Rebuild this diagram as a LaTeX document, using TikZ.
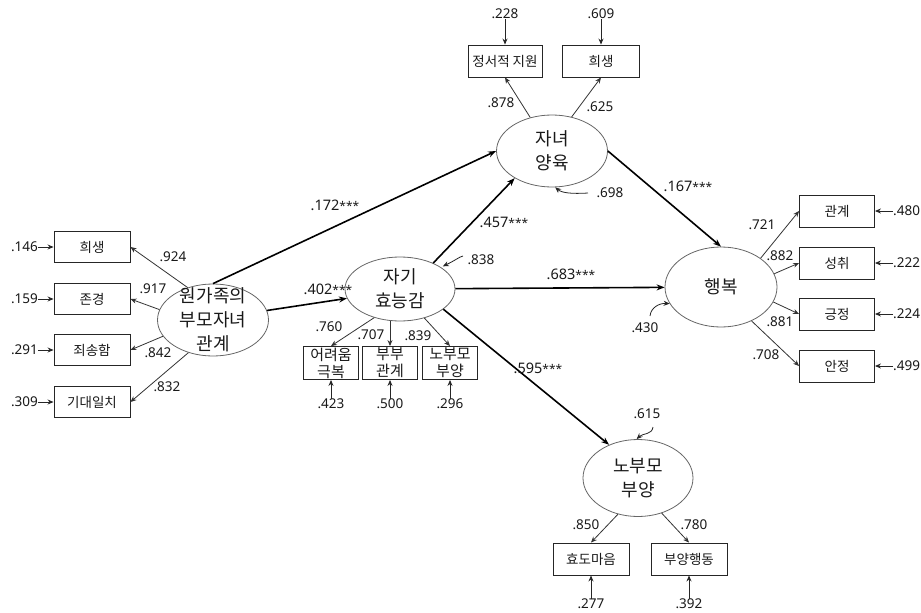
\documentclass[tikz,border=0pt]{standalone}
\usepackage{fontspec}
\setmainfont{Noto Sans CJK KR}
\newfontfamily\numfont{Noto Sans}
\usetikzlibrary{shapes.geometric,arrows.meta}
\newcommand{\sig}{{\fontsize{12}{12}\selectfont***}}
\begin{document}
\begin{tikzpicture}[x=1pt,y=-1pt,
 lat/.style={ellipse,draw=black!60,line width=0.8pt,inner sep=0},
 lattxt/.style={align=center,font=\fontsize{18}{24}\selectfont,inner sep=0,text=black!90},
 obs/.style={rectangle,draw=black!85,line width=0.9pt,minimum width=76pt,minimum height=32pt,inner sep=0,font=\fontsize{13.5}{16}\selectfont,text=black!90},
 sobs/.style={obs,minimum width=55pt,minimum height=33pt,align=center,font=\fontsize{15}{17}\selectfont},
 num/.style={inner sep=0,font=\numfont\fontsize{13.5}{15}\selectfont,text=black!90},
 pnum/.style={inner sep=0,font=\numfont\fontsize{14.5}{16}\selectfont,text=black!90},
 strong/.style={-{Stealth[length=8pt,width=6pt]},line width=1.6pt},
 load/.style={-{Stealth[length=6pt,width=5pt]},line width=0.8pt,draw=black!80},
 err/.style={-{Stealth[length=6pt,width=5pt]},line width=0.8pt,draw=black!85},
]
\useasboundingbox (0,0) rectangle (921,613);

% latent variables
\node[lat,minimum width=111pt,minimum height=72pt] (fam) at (213,320) {};
\node[lattxt] at (fam) {원가족의\\부모자녀\\관계};
\node[lat,minimum width=110pt,minimum height=64pt] (hyo) at (400,289) {};
\node[lattxt] at (hyo) {자기\\효능감};
\node[lat,minimum width=111pt,minimum height=72pt] (yuk) at (552,151) {};
\node[lattxt] at (yuk) {자녀\\양육};
\node[lat,minimum width=112pt,minimum height=80pt] (hap) at (721,287) {};
\node[lattxt] at (hap) {행복};
\node[lat,minimum width=110pt,minimum height=77pt] (nob) at (638,478) {};
\node[lattxt] at (nob) {노부모\\부양};

% observed: left
\node[obs,minimum height=31pt] (a1) at (92,247) {희생};
\node[obs,minimum height=31pt] (a2) at (92,299) {존경};
\node[obs,minimum height=31pt] (a3) at (92,350) {죄송함};
\node[obs,minimum height=31pt] (a4) at (92,402) {기대일치};
% observed: self-efficacy
\node[sobs] (b1) at (331,363) {어려움\\극복};
\node[sobs] (b2) at (390,363) {부부\\관계};
\node[sobs] (b3) at (450,363) {노부모\\부양};
% observed: top
\node[obs,minimum width=74pt] (c1) at (505,61) {정서적 지원};
\node[obs,minimum width=77pt] (c2) at (601,61) {희생};
% observed: right
\node[obs,minimum width=75pt] (d1) at (837,211) {관계};
\node[obs,minimum width=75pt] (d2) at (837,263) {성취};
\node[obs,minimum width=75pt] (d3) at (837,314) {긍정};
\node[obs,minimum width=75pt] (d4) at (837,366) {안정};
% observed: bottom
\node[obs] (f1) at (591,559) {효도마음};
\node[obs] (f2) at (689,559) {부양행동};

% error terms of observed variables
\node[num,anchor=east] (ea1) at (38,247) {.146};
\node[num,anchor=east] (ea2) at (38,299) {.159};
\node[num,anchor=east] (ea3) at (38,350) {.291};
\node[num,anchor=east] (ea4) at (38,402) {.309};
\foreach \i in {1,2,3,4} \draw[err] (ea\i) -- (a\i);
\node[num] (eb1) at (331,404) {.423};
\node[num] (eb2) at (390,404) {.500};
\node[num] (eb3) at (450,404) {.296};
\foreach \i in {1,2,3} \draw[err] (eb\i) -- (b\i);
\node[num] (ec1) at (505,14) {.228};
\node[num] (ec2) at (601,14) {.609};
\foreach \i in {1,2} \draw[err] (ec\i) -- (c\i);
\node[num,anchor=west] (ed1) at (893,211) {.480};
\node[num,anchor=west] (ed2) at (893,263) {.222};
\node[num,anchor=west] (ed3) at (893,314) {.224};
\node[num,anchor=west] (ed4) at (893,366) {.499};
\foreach \i in {1,2,3,4} \draw[err] (ed\i) -- (d\i);
\node[num] (ef1) at (591,604) {.277};
\node[num] (ef2) at (689,604) {.392};
\foreach \i in {1,2} \draw[err] (ef\i) -- (f\i);

% loadings
\draw[load] (fam.128) -- (a1.east);
\draw[load] (fam.169) -- (a2.east);
\draw[load] (fam.198) -- (a3.east);
\draw[load] (fam.233) -- (a4.east);
\node[num] at (173,257) {.924};
\node[num] at (153,289) {.917};
\node[num] at (158,353) {.842};
\node[num] at (167,387) {.832};

\draw[load] (hyo.228) -- (b1.north);
\draw[load] (b2.north |- hyo.south) -- (b2.north);
\draw[load] (hyo.-50) -- (b3.north);
\node[num] at (329,327) {.760};
\node[num] at (371,335) {.707};
\node[num] at (418,336) {.839};

\draw[load] (yuk.123) -- (c1.south);
\draw[load] (yuk.60) -- (c2.south);
\node[num] at (501,103) {.878};
\node[num] at (600,107) {.625};

\draw[load] (hap.36) -- (d1.west);
\draw[load] (hap.14) -- (d2.west);
\draw[load] (hap.-16) -- (d3.west);
\draw[load] (hap.-48) -- (d4.west);
\node[num] at (762,225) {.721};
\node[num] at (780,256) {.882};
\node[num] at (780,322) {.881};
\node[num] at (766,355) {.708};

\draw[load] (nob.241) -- (f1.north);
\draw[load] (nob.-56) -- (f2.north);
\node[num] at (586,525) {.850};
\node[num] at (694,525) {.780};

% structural paths
\draw[strong] (fam.north) -- (yuk.west);
\draw[strong] (fam.10) -- (hyo.190);
\draw[strong] (hyo.38) -- (yuk.216);
\draw[strong] (hyo) -- (hap);
\draw[strong] (hyo.-25) -- (nob.131);
\draw[strong] (yuk.east) -- (hap.north);
\node[pnum] at (335,205) {.172\sig};
\node[pnum] at (328,289) {.402\sig};
\node[pnum] at (504,222) {.457\sig};
\node[pnum] at (571,274) {.683\sig};
\node[pnum] at (538,368) {.595\sig};
\node[pnum] at (688,186) {.167\sig};

% residuals of latent variables
\node[num] at (610,193) {.698};
\coordinate (rys) at (588,193);
\draw[err] (rys) .. controls (572,194) and (562,193) .. (yuk.-85);
\node[num] at (481,260) {.838};
\coordinate (rhs) at (463,256);
\draw[err,shorten >=2pt] (rhs) .. controls (459,257) and (456,260) .. (hyo.28);
\node[num] at (645,328) {.430};
\coordinate (rps) at (650,316);
\draw[err] (rps) .. controls (651,307) and (660,303) .. (hap.198);
\node[num] at (647,414) {.615};
\coordinate (rns) at (653,427);
\draw[err] (rns) .. controls (652,435) and (643,433) .. (nob.92);
\end{tikzpicture}
\end{document}
